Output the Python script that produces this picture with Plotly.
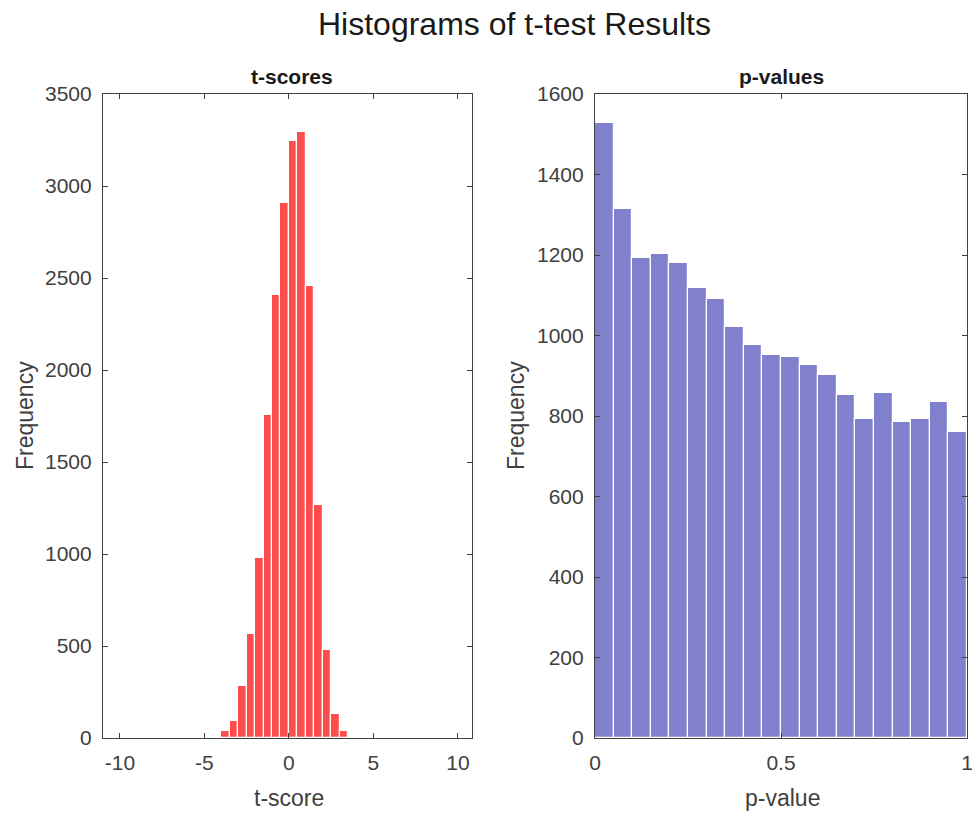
import plotly.graph_objects as go

# ---- data ----
t_centers = [-6.25, -5.75, -5.25, -4.75, -4.25, -3.75, -3.25, -2.75, -2.25, -1.75,
             -1.25, -0.75, -0.25, 0.25, 0.75, 1.25, 1.75, 2.25, 2.75, 3.25,
             3.75, 4.25, 4.75, 5.25, 5.75, 6.25]
t_counts = [1, 1, 2, 3, 6, 36, 90, 280, 565, 978,
            1757, 2409, 2908, 3242, 3291, 2454, 1268, 480, 130, 40,
            2, 1, 1, 1, 1, 1]

p_centers = [0.025, 0.075, 0.125, 0.175, 0.225, 0.275, 0.325, 0.375, 0.425, 0.475,
             0.525, 0.575, 0.625, 0.675, 0.725, 0.775, 0.825, 0.875, 0.925, 0.975]
p_counts = [1528, 1315, 1193, 1202, 1180, 1117, 1091, 1021, 976, 952,
            947, 927, 901, 853, 793, 857, 784, 793, 836, 760]

t_ticks = [-10, -5, 0, 5, 10]
t_ticktext = ["-10", "-5", "0", "5", "10"]
t_yticks = [0, 500, 1000, 1500, 2000, 2500, 3000, 3500]
p_ticks = [0, 0.5, 1]
p_ticktext = ["0", "0.5", "1"]
p_yticks = [0, 200, 400, 600, 800, 1000, 1200, 1400, 1600]

FONT = "Liberation Sans, Arial, sans-serif"
AX = "#404040"
W, H = 972, 815

fig = go.Figure()
fig.add_trace(go.Bar(x=t_centers, y=t_counts, width=0.5,
                     marker=dict(color="rgb(255,77,77)", line=dict(color="white", width=1.2)),
                     xaxis="x", yaxis="y", showlegend=False))
fig.add_trace(go.Bar(x=p_centers, y=p_counts, width=0.05,
                     marker=dict(color="rgb(128,128,204)", line=dict(color="white", width=1.2)),
                     xaxis="x2", yaxis="y2", showlegend=False))

ydom = [1 - 738 / H, 1 - 94 / H]
common = dict(showline=True, linecolor=AX, linewidth=1.2, mirror="ticks",
              ticks="inside", ticklen=5, tickcolor=AX, tickwidth=1,
              showgrid=False, zeroline=False, automargin=False,
              ticklabeloverflow="allow",
              tickfont=dict(family=FONT, size=21, color=AX))

fig.update_layout(
    width=W, height=H, autosize=False,
    margin=dict(l=0, r=0, t=0, b=0, pad=0),
    paper_bgcolor="white", plot_bgcolor="white",
    bargap=0,
    xaxis=dict(domain=[103 / W, 472 / W], range=[-11, 10.83], tickvals=t_ticks,
               ticktext=t_ticktext, anchor="y", ticklabelstandoff=6, **common),
    yaxis=dict(domain=ydom, range=[0, 3500], tickvals=t_yticks, anchor="x",
               ticklabelstandoff=6, **common),
    xaxis2=dict(domain=[595 / W, 967 / W], range=[0, 1], tickvals=p_ticks,
                ticktext=p_ticktext, anchor="y2", ticklabelstandoff=6, **common),
    yaxis2=dict(domain=ydom, range=[0, 1600], tickvals=p_yticks, anchor="x2",
                ticklabelstandoff=6, **common),
)

ann = [
    dict(text="Histograms of t-test Results", x=514 / W, y=1 - 24 / H,
         font=dict(family=FONT, size=32, color="#1a1a1a")),
    dict(text="<b>t-scores</b>", x=292 / W, y=1 - 76 / H,
         font=dict(family=FONT, size=21, color="#1a1a1a")),
    dict(text="<b>p-values</b>", x=781 / W, y=1 - 76 / H,
         font=dict(family=FONT, size=21, color="#1a1a1a")),
    dict(text="t-score", x=289 / W, y=1 - 798 / H,
         font=dict(family=FONT, size=23, color=AX)),
    dict(text="p-value", x=782 / W, y=1 - 798 / H,
         font=dict(family=FONT, size=23, color=AX)),
    dict(text="Frequency", x=25 / W, y=1 - 416 / H, textangle=-90,
         font=dict(family=FONT, size=23, color=AX)),
    dict(text="Frequency", x=516 / W, y=1 - 416 / H, textangle=-90,
         font=dict(family=FONT, size=23, color=AX)),
]
for a in ann:
    a.update(xref="paper", yref="paper", showarrow=False, xanchor="center", yanchor="middle")
    fig.add_annotation(**a)

fig.write_html("out.html", config={"responsive": False, "displayModeBar": False},
               post_script="document.body.style.margin='0';document.body.style.padding='0';")
